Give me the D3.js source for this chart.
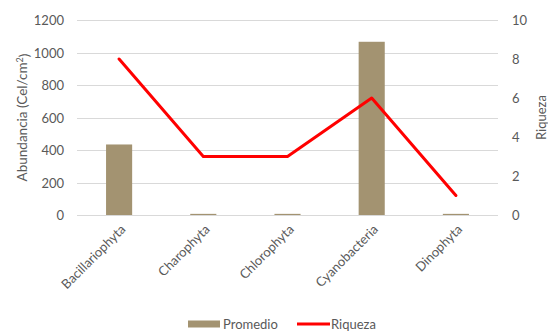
<!DOCTYPE html>
<html>
<head>
<meta charset="utf-8">
<script src="https://cdn.jsdelivr.net/npm/d3@7"></script>
<style>
  body { margin: 0; background: #fff; }
  text { font-family: Lato, "Open Sans", sans-serif; fill: #595959; }
</style>
</head>
<body>
<div id="chart"></div>
<script>
var categories = ["Bacillariophyta", "Charophyta", "Chlorophyta", "Cyanobacteria", "Dinophyta"];
var promedio = [434, 7, 7, 1066, 7];
var riqueza = [8, 3, 3, 6, 1];
var leftTicks = [0, 200, 400, 600, 800, 1000, 1200];
var rightTicks = [0, 2, 4, 6, 8, 10];

var width = 548, height = 331;
var plotLeft = 77, plotRight = 498, plotTop = 20, plotBottom = 215;

var svg = d3.select("#chart").append("svg")
    .attr("width", width)
    .attr("height", height);

var x = d3.scaleBand()
    .domain(categories)
    .range([plotLeft, plotRight])
    .paddingInner(0.69)
    .paddingOuter(0.345);

var xc = d3.scaleBand()
    .domain(categories)
    .range([plotLeft, plotRight]);

var yl = d3.scaleLinear().domain([0, 1200]).range([plotBottom, plotTop]);
var yr = d3.scaleLinear().domain([0, 10]).range([plotBottom, plotTop]);

// gridlines
svg.append("g")
  .selectAll("line")
  .data(leftTicks)
  .enter().append("line")
    .attr("x1", plotLeft)
    .attr("x2", plotRight)
    .attr("y1", function(d){ return Math.round(yl(d)) + 0.5; })
    .attr("y2", function(d){ return Math.round(yl(d)) + 0.5; })
    .attr("stroke", "#d9d9d9")
    .attr("stroke-width", 1);

// left axis
var leftAxis = svg.append("g")
    .attr("transform", "translate(" + (plotLeft - 13) + ",0)")
    .call(d3.axisLeft(yl).tickValues(leftTicks).tickFormat(d3.format("d")).tickSize(0).tickPadding(0));
leftAxis.select(".domain").remove();
leftAxis.selectAll("text").style("font-size", "13px").attr("dy", "0.35em");

// right axis
var rightAxis = svg.append("g")
    .attr("transform", "translate(" + (plotRight + 14) + ",0)")
    .call(d3.axisRight(yr).tickValues(rightTicks).tickFormat(d3.format("d")).tickSize(0).tickPadding(0));
rightAxis.select(".domain").remove();
rightAxis.selectAll("text").style("font-size", "13px").attr("dy", "0.35em");

// bars
svg.append("g")
  .selectAll("rect")
  .data(promedio)
  .enter().append("rect")
    .attr("x", function(d, i){ return x(categories[i]); })
    .attr("width", x.bandwidth())
    .attr("y", function(d){ return yl(d); })
    .attr("height", function(d){ return plotBottom - yl(d); })
    .attr("fill", "#a39371");

// line
var line = d3.line()
    .x(function(d, i){ return xc(categories[i]) + xc.bandwidth() / 2; })
    .y(function(d){ return yr(d); });

svg.append("path")
    .datum(riqueza)
    .attr("d", line)
    .attr("fill", "none")
    .attr("stroke", "#ff0000")
    .attr("stroke-width", 3)
    .attr("stroke-linejoin", "round")
    .attr("stroke-linecap", "round");

// x labels
svg.append("g")
  .selectAll("text")
  .data(categories)
  .enter().append("text")
    .attr("transform", function(d){
      return "translate(" + (xc(d) + xc.bandwidth() / 2 + 4) + "," + (plotBottom + 12) + ") rotate(-45)";
    })
    .attr("text-anchor", "end")
    .attr("dy", "0.35em")
    .style("font-size", "13px")
    .text(function(d){ return d; });

// axis titles
var leftTitle = svg.append("text")
    .attr("transform", "translate(27," + ((plotTop + plotBottom) / 2) + ") rotate(-90)")
    .attr("text-anchor", "middle")
    .style("font-size", "13.5px");
leftTitle.append("tspan").text("Abundancia (Cel/cm");
leftTitle.append("tspan").attr("dy", "-0.4em").style("font-size", "9px").text("2");
leftTitle.append("tspan").attr("dy", "0.4em").text(")");

svg.append("text")
    .attr("transform", "translate(542," + ((plotTop + plotBottom) / 2) + ") rotate(-90)")
    .attr("text-anchor", "middle")
    .attr("dy", "0.3em")
    .style("font-size", "13px")
    .text("Riqueza");

// legend
var legend = svg.append("g").attr("transform", "translate(0,324)");
legend.append("rect")
    .attr("x", 188).attr("y", -3.5)
    .attr("width", 32).attr("height", 7)
    .attr("fill", "#a39371");
legend.append("text")
    .attr("x", 223).attr("dy", "0.35em")
    .style("font-size", "13px")
    .text("Promedio");
legend.append("line")
    .attr("x1", 297).attr("x2", 330)
    .attr("stroke", "#ff0000").attr("stroke-width", 3);
legend.append("text")
    .attr("x", 331).attr("dy", "0.35em")
    .style("font-size", "13px")
    .text("Riqueza");
</script>
</body>
</html>
